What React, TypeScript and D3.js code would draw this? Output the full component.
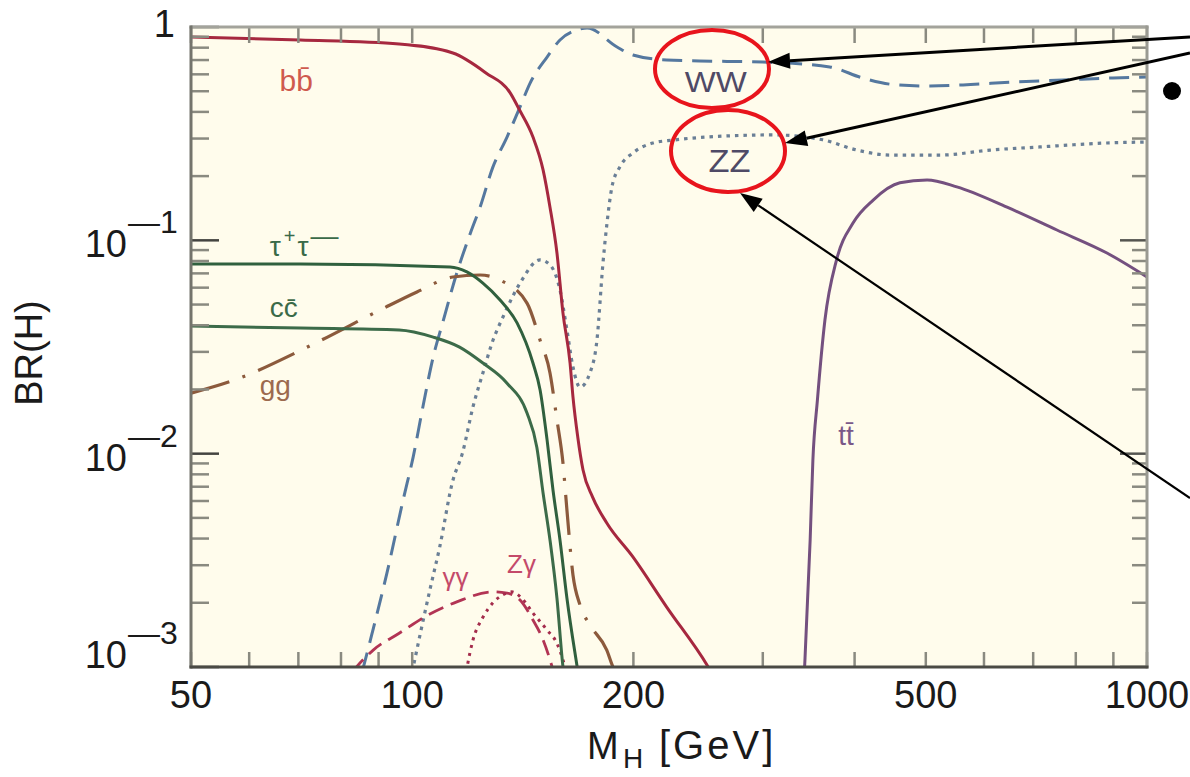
import React, { useEffect, useRef } from 'react';
import * as d3 from 'd3';

// [M_H in GeV, branching ratio]
type Pt = [number, number];

const bbData: Pt[] = [
  [50, 0.898], [70.4, 0.869], [96, 0.832], [113.6, 0.755], [126, 0.609], [136, 0.49],
  [140, 0.408], [146, 0.305], [150.7, 0.214], [154, 0.143], [157.4, 0.0872], [160.4, 0.0456],
  [164, 0.0266], [165.5, 0.01845], [168, 0.01197], [170.8, 0.00838], [176, 0.00626],
  [184, 0.00473], [199.7, 0.00328], [222, 0.00191], [252, 0.00102], [260, 0.00085],
];

const wwData: Pt[] = [
  [85.5, 0.00095], [88.2, 0.00144], [92.4, 0.00276], [97.2, 0.00607], [100.3, 0.00964],
  [103.4, 0.01655], [106.8, 0.0284], [110, 0.041], [115, 0.0703], [120, 0.108], [123.7, 0.143],
  [128.8, 0.221], [134.6, 0.305], [140.2, 0.422], [144.7, 0.546], [152.6, 0.723], [158.9, 0.869],
  [167.6, 0.968], [173, 0.989], [190, 0.806], [199.7, 0.739], [222, 0.7], [246, 0.693],
  [300, 0.685], [370, 0.65], [410, 0.577], [457, 0.535], [507, 0.529], [562, 0.535],
  [657, 0.552], [768, 0.564], [899, 0.577], [1000, 0.583],
];

const zzData: Pt[] = [
  [100, 0.00095], [105.7, 0.0023], [109, 0.00365], [113.6, 0.0075], [117, 0.01], [121, 0.0166],
  [124.8, 0.0239], [128.8, 0.034], [132.9, 0.0437], [140.2, 0.063], [149.3, 0.081], [154, 0.0767],
  [158.9, 0.0585], [162.4, 0.038], [165.5, 0.0255], [169.2, 0.0205], [174.6, 0.024], [178.4, 0.034],
  [181.8, 0.078], [184, 0.118], [187, 0.178], [191.7, 0.221], [199.7, 0.2566], [212.6, 0.286],
  [226.4, 0.295], [252, 0.305], [310, 0.312], [362, 0.296], [403, 0.265], [447, 0.251],
  [523, 0.251], [612, 0.265], [715, 0.274], [882, 0.286], [1000, 0.289],
];

const tauData: Pt[] = [
  [50, 0.0774], [70.4, 0.0774], [112.6, 0.075], [118.7, 0.0711], [124.8, 0.063], [131.7, 0.0525],
  [138.9, 0.041], [146, 0.0266], [149.3, 0.0199], [152.6, 0.0116], [155.5, 0.0067],
  [158.9, 0.00394], [162.4, 0.0021], [167.7, 0.001], [168.5, 0.0009],
];

const ccData: Pt[] = [
  [50, 0.0397], [70.4, 0.0388], [96, 0.038], [106.8, 0.0352], [116, 0.0316], [124.8, 0.0266],
  [134.6, 0.0214], [143.3, 0.0155], [147.8, 0.0107], [150.7, 0.00654], [154, 0.00394],
  [157.4, 0.0021], [160.4, 0.001], [161, 0.0009],
];

const ggData: Pt[] = [
  [50, 0.0192], [57, 0.022], [72, 0.0316], [90.4, 0.0471], [101.5, 0.0573], [113.6, 0.0673],
  [123.7, 0.0688], [131.7, 0.0651], [143.3, 0.0508], [149.3, 0.034], [154, 0.0239], [157.4, 0.0144],
  [160.4, 0.00904], [162.4, 0.00544], [165.5, 0.0027], [169.2, 0.00195], [174.6, 0.00157],
  [184, 0.0012], [187.6, 0.001], [189, 0.00095],
];

const ttData: Pt[] = [
  [341.5, 0.0009], [342, 0.001], [348, 0.00394], [351, 0.00934], [356, 0.0178], [364.5, 0.0423],
  [378, 0.081], [398, 0.1205], [424, 0.1545], [461, 0.186], [502, 0.192], [551, 0.178],
  [645, 0.143], [754, 0.1118], [882, 0.0872], [1000, 0.0673],
];

const gamgamData: Pt[] = [
  [83, 0.00095], [84, 0.001], [88.5, 0.0012], [96, 0.00144], [105, 0.00175], [115, 0.00202],
  [128.8, 0.00225], [134.6, 0.00222], [140.2, 0.00206], [146, 0.00166], [150.7, 0.00134],
  [154, 0.00108], [155, 0.001], [155.5, 0.00095],
];

const zgamData: Pt[] = [
  [118.5, 0.00095], [118.8, 0.001], [121, 0.00134], [124.8, 0.00171], [128.8, 0.002],
  [132.9, 0.00218], [136.7, 0.00225], [141, 0.0021], [146, 0.00179], [152.6, 0.00149],
  [157.4, 0.00129], [161.4, 0.001], [162, 0.00095],
];

const xMajorTicks = [50, 100, 200, 500, 1000];
const xMinorTicks = [60, 70, 80, 90, 300, 400, 600, 700, 800, 900];
const yMajorTicks = [1, 0.1, 0.01, 0.001];
const yMinorTicks = [
  0.9, 0.8, 0.7, 0.6, 0.5, 0.4, 0.3, 0.2,
  0.09, 0.08, 0.07, 0.06, 0.05, 0.04, 0.03, 0.02,
  0.009, 0.008, 0.007, 0.006, 0.005, 0.004, 0.003, 0.002,
];

const FONT = "'Liberation Sans', Arial, Helvetica, sans-serif";

export default function App() {
  const svgRef = useRef<SVGSVGElement | null>(null);

  useEffect(() => {
    if (!svgRef.current) return;
    const svg = d3.select(svgRef.current);
    svg.selectAll('*').remove();

    const left = 191, right = 1147, top = 27, bottom = 667;

    const x = d3.scaleLog().domain([50, 1000]).range([left, right]);
    const y = d3.scaleLog().domain([0.001, 1]).range([bottom, top]);

    svg.append('rect').attr('width', 1190).attr('height', 777).attr('fill', '#ffffff');

    // plot background
    svg.append('rect')
      .attr('x', left).attr('y', top)
      .attr('width', right - left).attr('height', bottom - top)
      .attr('fill', '#fffcec');

    svg.append('clipPath').attr('id', 'plot-clip')
      .append('rect')
      .attr('x', left).attr('y', top)
      .attr('width', right - left).attr('height', bottom - top);

    const series = [
      { data: ttData, color: '#74507f', dash: null, width: 3 },
      { data: zzData, color: '#6a7f96', dash: '3.5,5', width: 3.2 },
      { data: wwData, color: '#55789f', dash: '20,10', width: 3 },
      { data: gamgamData, color: '#b23454', dash: '16,8', width: 2.8 },
      { data: zgamData, color: '#a42c4c', dash: '3,5', width: 3 },
      { data: ggData, color: '#8c5a3c', dash: '40,14,3,14', width: 3.2 },
      { data: ccData, color: '#3c6b49', dash: null, width: 3 },
      { data: tauData, color: '#30603e', dash: null, width: 3 },
      { data: bbData, color: '#a6283f', dash: null, width: 3 },
    ];

    const line = d3.line<Pt>()
      .curve(d3.curveMonotoneX)
      .x(d => x(d[0]))
      .y(d => y(d[1]));

    svg.append('g')
      .attr('clip-path', 'url(#plot-clip)')
      .attr('fill', 'none')
      .attr('stroke-linejoin', 'round')
      .selectAll('path')
      .data(series)
      .join('path')
      .attr('stroke', d => d.color)
      .attr('stroke-width', d => d.width)
      .attr('stroke-dasharray', d => d.dash)
      .attr('d', d => line(d.data));

    // ticks (pointing inward)
    const ticks = svg.append('g');
    xMajorTicks.concat(xMinorTicks).forEach(t => {
      ticks.append('line')
        .attr('x1', x(t)).attr('x2', x(t))
        .attr('y1', bottom).attr('y2', bottom - 15)
        .attr('stroke', '#8a8a80').attr('stroke-width', 2.5);
      ticks.append('line')
        .attr('x1', x(t)).attr('x2', x(t))
        .attr('y1', top).attr('y2', top + 16)
        .attr('stroke', '#8a8a80').attr('stroke-width', 2.5);
    });
    yMinorTicks.forEach(t => {
      ticks.append('line')
        .attr('x1', left).attr('x2', left + 18)
        .attr('y1', y(t)).attr('y2', y(t))
        .attr('stroke', '#8a8a80').attr('stroke-width', 2.5);
      ticks.append('line')
        .attr('x1', right).attr('x2', right - 15)
        .attr('y1', y(t)).attr('y2', y(t))
        .attr('stroke', '#8a8a80').attr('stroke-width', 2.5);
    });
    yMajorTicks.forEach(t => {
      ticks.append('line')
        .attr('x1', left).attr('x2', left + 28)
        .attr('y1', y(t)).attr('y2', y(t))
        .attr('stroke', '#444440').attr('stroke-width', 2.5);
      ticks.append('line')
        .attr('x1', right).attr('x2', right - 27)
        .attr('y1', y(t)).attr('y2', y(t))
        .attr('stroke', '#555550').attr('stroke-width', 2.5);
    });

    // frame
    const frame = svg.append('g').attr('stroke-width', 3).attr('stroke-linecap', 'square');
    frame.append('line').attr('x1', left).attr('x2', right).attr('y1', top).attr('y2', top).attr('stroke', '#a3a39b');
    frame.append('line').attr('x1', right).attr('x2', right).attr('y1', top).attr('y2', bottom).attr('stroke', '#9a9a92');
    frame.append('line').attr('x1', left).attr('x2', left).attr('y1', top).attr('y2', bottom).attr('stroke', '#74746c');
    frame.append('line').attr('x1', left).attr('x2', right).attr('y1', bottom).attr('y2', bottom).attr('stroke', '#4a4a44');

    // tick labels
    const labels = svg.append('g').attr('font-family', FONT).attr('fill', '#1a1a1a');
    xMajorTicks.forEach(t => {
      labels.append('text')
        .attr('x', x(t)).attr('y', 708)
        .attr('text-anchor', 'middle')
        .attr('font-size', 38)
        .text(String(t));
    });
    yMajorTicks.forEach(t => {
      const yy = y(t);
      if (t === 1) {
        labels.append('text')
          .attr('x', 175).attr('y', yy + 10)
          .attr('text-anchor', 'end')
          .attr('font-size', 38)
          .text('1');
        return;
      }
      const base = Math.min(yy + 17, bottom + 1);
      const exp = Math.abs(Math.round(Math.log10(t)));
      labels.append('text')
        .attr('x', 127).attr('y', base)
        .attr('text-anchor', 'end')
        .attr('font-size', 38)
        .text('10');
      labels.append('text')
        .attr('x', 128).attr('y', base - 24)
        .attr('font-size', 32)
        .text('\u2014' + exp);
    });

    // axis titles
    labels.append('text').attr('x', 587).attr('y', 759).attr('font-size', 38).text('M');
    labels.append('text').attr('x', 623).attr('y', 768).attr('font-size', 28).text('H');
    labels.append('text').attr('x', 659).attr('y', 759).attr('font-size', 40)
      .attr('letter-spacing', 3).text('[GeV]');
    labels.append('text')
      .attr('transform', 'translate(42,353) rotate(-90)')
      .attr('text-anchor', 'middle')
      .attr('font-size', 38)
      .text('BR(H)');

    // curve labels
    const cl = svg.append('g').attr('font-family', FONT);
    cl.append('text').attr('x', x(66)).attr('y', y(0.5)).attr('font-size', 30)
      .attr('fill', '#cf5a4e').text('bb\u0304');

    const tau = cl.append('text').attr('x', x(64)).attr('y', y(0.084)).attr('font-size', 28)
      .attr('fill', '#3a6a48');
    tau.append('tspan').text('\u03c4');
    tau.append('tspan').attr('font-size', 20).attr('dy', -13).attr('dx', 3).text('+');
    tau.append('tspan').attr('dy', 13).attr('dx', 2).text('\u03c4');
    tau.append('tspan').attr('font-size', 28).attr('dy', -11).attr('dx', 2).text('\u2014');

    cl.append('text').attr('x', x(64)).attr('y', y(0.0435)).attr('font-size', 28)
      .attr('fill', '#3a6a48').text('cc\u0304');
    cl.append('text').attr('x', x(62)).attr('y', y(0.0188)).attr('font-size', 28)
      .attr('fill', '#9c6a4e').text('gg');
    cl.append('text').attr('x', x(110)).attr('y', y(0.0024)).attr('font-size', 26)
      .attr('fill', '#c44a6a').text('\u03b3\u03b3');
    cl.append('text').attr('x', x(134.6)).attr('y', y(0.00276)).attr('font-size', 26)
      .attr('fill', '#c44a6a').text('Z\u03b3');
    cl.append('text').attr('x', x(235)).attr('y', y(0.496)).attr('font-size', 30)
      .attr('textLength', 62).attr('lengthAdjust', 'spacingAndGlyphs')
      .attr('fill', '#4f4a66').text('WW');
    cl.append('text').attr('x', x(253)).attr('y', y(0.209)).attr('font-size', 31)
      .attr('textLength', 42).attr('lengthAdjust', 'spacingAndGlyphs')
      .attr('fill', '#4f4a66').text('ZZ');
    cl.append('text').attr('x', x(380)).attr('y', y(0.011)).attr('font-size', 28)
      .attr('fill', '#7a5888').text('tt\u0304');

    // annotation overlay: circles, arrows, bullet
    const ann = svg.append('g');
    const ellipses = [
      { cx: 712, cy: 69, rx: 57, ry: 39 },
      { cx: 728, cy: 151, rx: 57, ry: 41 },
    ];
    ann.selectAll('ellipse')
      .data(ellipses)
      .join('ellipse')
      .attr('cx', d => d.cx).attr('cy', d => d.cy)
      .attr('rx', d => d.rx).attr('ry', d => d.ry)
      .attr('fill', 'none').attr('stroke', '#e8141c').attr('stroke-width', 4);

    const arrows = [
      { x1: 1190, y1: 37, x2: 768, y2: 62, w: 3 },
      { x1: 1190, y1: 53, x2: 785, y2: 143, w: 3 },
      { x1: 1190, y1: 498, x2: 740, y2: 193, w: 2.2 },
    ];
    arrows.forEach(a => {
      const ang = Math.atan2(a.y2 - a.y1, a.x2 - a.x1);
      const len = 22, half = 8;
      const bx = a.x2 - len * Math.cos(ang), by = a.y2 - len * Math.sin(ang);
      ann.append('line')
        .attr('x1', a.x1).attr('y1', a.y1).attr('x2', bx).attr('y2', by)
        .attr('stroke', '#000').attr('stroke-width', a.w);
      const pts = [
        [a.x2, a.y2],
        [bx + half * Math.sin(ang), by - half * Math.cos(ang)],
        [bx - half * Math.sin(ang), by + half * Math.cos(ang)],
      ];
      ann.append('polygon').attr('points', pts.map(p => p.join(',')).join(' ')).attr('fill', '#000');
    });
    ann.append('circle').attr('cx', 1172).attr('cy', 91).attr('r', 9).attr('fill', '#000');
  }, []);

  return (
    <svg
      ref={svgRef}
      width={1190}
      height={777}
      style={{ position: 'absolute', left: 0, top: 0, display: 'block' }}
    />
  );
}
